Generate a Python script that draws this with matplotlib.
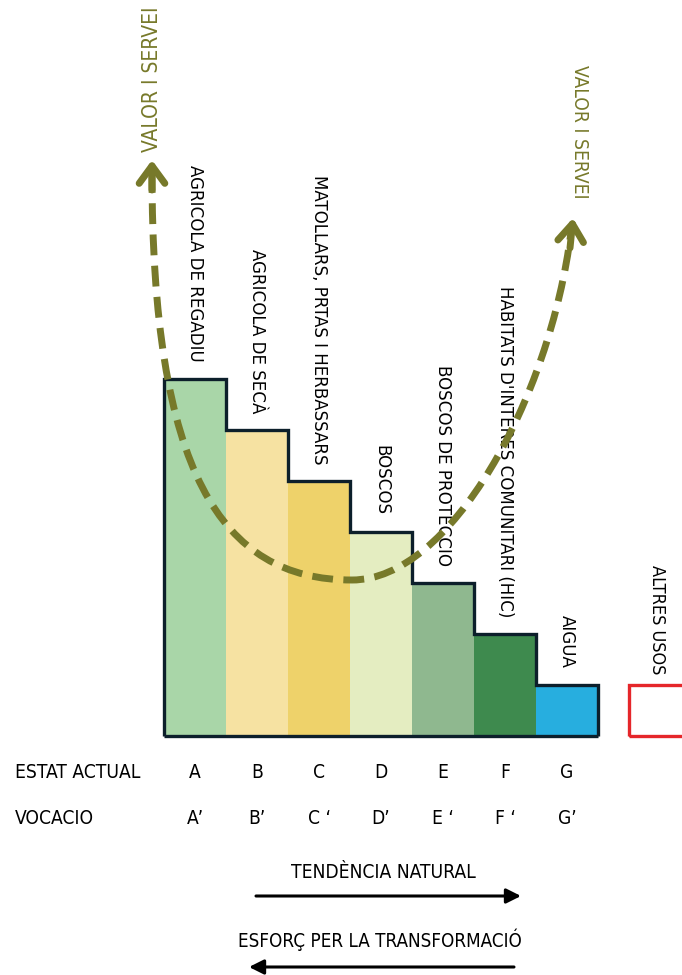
import numpy as np
import matplotlib
matplotlib.use("Agg")
import matplotlib.pyplot as plt
from matplotlib.path import Path
from matplotlib.patches import PathPatch

plt.rcParams['font.family'] = ['DejaVu Sans']
plt.rcParams['font.stretch'] = 'condensed'

# data
categories = ["AGRICOLA DE REGADIU", "AGRICOLA DE SECÀ", "MATOLLARS, PRTAS I HERBASSARS",
              "BOSCOS", "BOSCOS DE PROTECCIO", "HABITATS D'INTERES COMUNITARI (HIC)", "AIGUA"]
values = [7, 6, 5, 4, 3, 2, 1]
colors = ["#a9d6a8", "#f6e2a2", "#eed26a", "#e4edc1", "#8fb88f", "#3e8a4e", "#27aedf"]
estat = ["A", "B", "C", "D", "E", "F", "G"]
vocacio = ["A\u2019", "B\u2019", "C \u2018", "D\u2019", "E \u2018", "F \u2018", "G\u2019"]
other_label = "ALTRES USOS"
other_value = 1
olive = "#77792a"

fig = plt.figure(figsize=(6.82, 9.75), dpi=100)
ax = fig.add_axes([0, 0, 1, 1])
ax.set_xlim(-195 / 62, (682 - 195) / 62)
ax.set_ylim(-239 / 51, (975 - 239) / 51)
ax.axis("off")

x = np.arange(len(values))
ax.bar(x, values, width=1.0, color=colors, edgecolor="none", zorder=1)
edges = np.append(x - 0.5, x[-1] + 0.5)
ax.stairs(values, edges, baseline=0, color="#0c1f2b", lw=2.4, zorder=3)
ax.hlines(0, edges[0], edges[-1], color="#0c1f2b", lw=2.4, zorder=3)

# other uses box
ax.bar(7.0, other_value, width=1.3, align="edge", facecolor="none",
       edgecolor="#e5262a", lw=2.4, zorder=3)
ax.text(7.45, other_value + 2.35, other_label, rotation=-90, ha="center", va="top",
        fontsize=13)

for xi, v, lab in zip(x, values, categories):
    ax.text(xi, v + 0.33, lab, rotation=-90, ha="center", va="bottom", fontsize=13.3)

# value/service curve
p = lambda px, py: ((px - 195) / 62, (736 - py) / 51)
verts = [p(152, 172), p(152, 470), p(220, 580), p(352, 580),
         p(450, 580), p(550, 400), p(571, 232)]
codes = [Path.MOVETO] + [Path.CURVE4] * 6
curve = PathPatch(Path(verts, codes), fill=False, edgecolor=olive, lw=5,
                  linestyle=(0, (3.0, 1.5)), capstyle="butt", zorder=4)
ax.add_patch(curve)
for tip, tail in [(p(152, 160), p(152, 190)), (p(573, 218), p(570, 248))]:
    ax.annotate("", xy=tip, xytext=tail,
                arrowprops=dict(arrowstyle="->, head_length=0.45, head_width=0.33",
                                color=olive, lw=5, mutation_scale=28,
                                shrinkA=0, shrinkB=0), zorder=4)
ax.text(*p(152, 152), "VALOR I SERVEI", rotation=90, ha="center", va="bottom",
        color=olive, fontsize=15)
ax.text(*p(579, 65), "VALOR I SERVEI", rotation=-90, ha="center", va="top",
        color=olive, fontsize=13.8)

# rows below
ax.text(*p(15, 772), "ESTAT ACTUAL", ha="left", va="center", fontsize=13.8)
ax.text(*p(15, 818), "VOCACIO", ha="left", va="center", fontsize=13.8)
for xi, a, b in zip(x, estat, vocacio):
    ax.text(xi, (736 - 772) / 51, a, ha="center", va="center", fontsize=13.8)
    ax.text(xi, (736 - 818) / 51, b, ha="center", va="center", fontsize=13.8)

ax.text(*p(383, 873), "TENDÈNCIA NATURAL", ha="center", va="center", fontsize=13.8)
ax.annotate("", xy=p(521, 896), xytext=p(256, 896),
            arrowprops=dict(arrowstyle="-|>", color="black", lw=2.2, mutation_scale=22,
                            shrinkA=0, shrinkB=0))
ax.text(*p(380, 940), "ESFORÇ PER LA TRANSFORMACIÓ", ha="center", va="center", fontsize=13.5)
ax.annotate("", xy=p(249, 967), xytext=p(514, 967),
            arrowprops=dict(arrowstyle="-|>", color="black", lw=2.2, mutation_scale=22,
                            shrinkA=0, shrinkB=0))

fig.savefig("out.png", dpi=100)
